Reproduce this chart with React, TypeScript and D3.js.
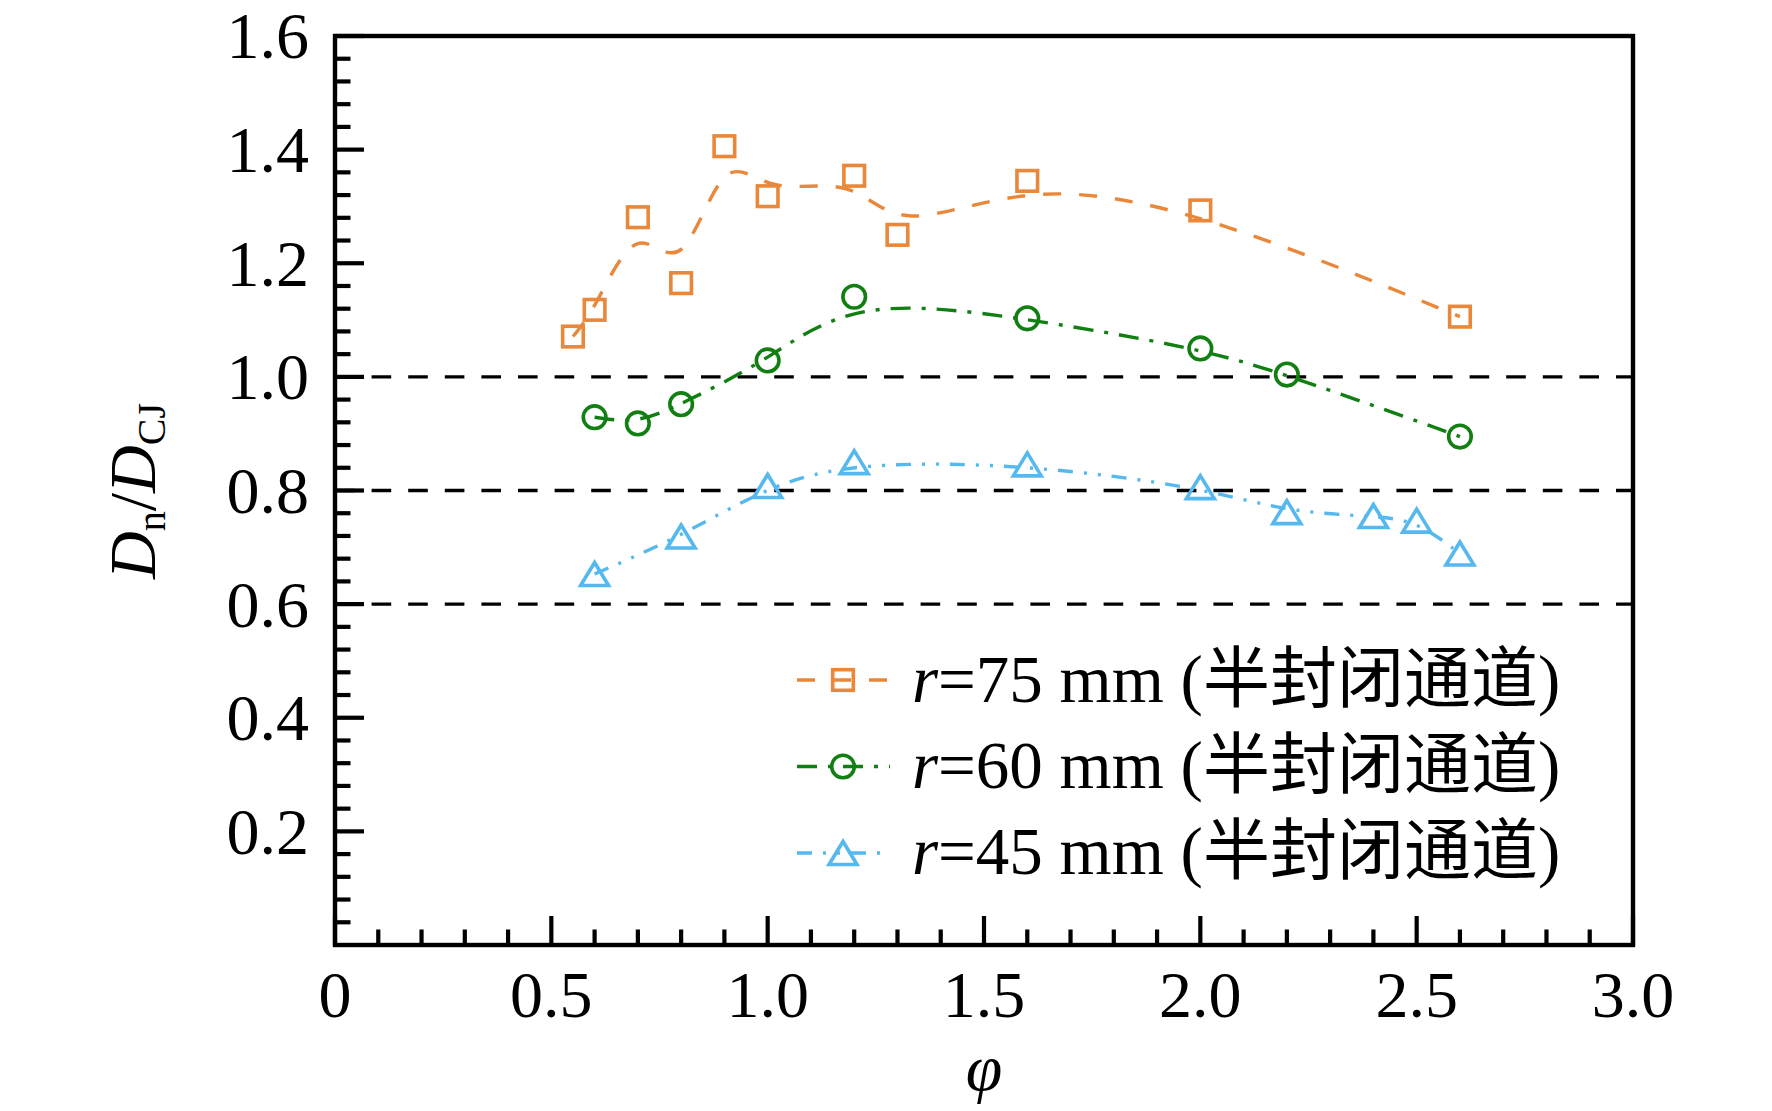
import React from "react";
import * as d3 from "d3";

// ---- data ----
const phi75 = [0.55, 0.6, 0.7, 0.8, 0.9, 1.0, 1.2, 1.3, 1.6, 2.0, 2.6];
const val75 = [1.071, 1.118, 1.281, 1.165, 1.406, 1.318, 1.354, 1.25, 1.345, 1.293, 1.106];
const phi60 = [0.6, 0.7, 0.8, 1.0, 1.2, 1.6, 2.0, 2.2, 2.6];
const val60 = [0.929, 0.918, 0.952, 1.029, 1.141, 1.103, 1.05, 1.004, 0.895];
const phi45 = [0.6, 0.8, 1.0, 1.2, 1.6, 2.0, 2.2, 2.4, 2.5, 2.6];
const val45 = [0.653, 0.719, 0.808, 0.85, 0.846, 0.806, 0.762, 0.755, 0.747, 0.689];
const refLines = [0.6, 0.8, 1.0];
const xTickLabels = ["0", "0.5", "1.0", "1.5", "2.0", "2.5", "3.0"];
const xTickValues = [0, 0.5, 1.0, 1.5, 2.0, 2.5, 3.0];
const yTickLabels = ["0.2", "0.4", "0.6", "0.8", "1.0", "1.2", "1.4", "1.6"];
const yTickValues = [0.2, 0.4, 0.6, 0.8, 1.0, 1.2, 1.4, 1.6];
const legendLabels = ["=75 mm (半封闭通道)", "=60 mm (半封闭通道)", "=45 mm (半封闭通道)"];

const W = 1772;
const H = 1111;
const L = 335, R = 1633, T = 36, B = 945;

const x = d3.scaleLinear().domain([0, 3]).range([L, R]);
const y = d3.scaleLinear().domain([0, 1.6]).range([B, T]);

const FONT = "'Liberation Serif', 'Times New Roman', 'Noto Sans CJK SC', serif";

type Series = {
  xs: number[];
  ys: number[];
  color: string;
  dash: string;
  marker: "square" | "circle" | "triangle";
  label: string;
};

const series: Series[] = [
  { xs: phi75, ys: val75, color: "#E9883A", dash: "18 18", marker: "square", label: legendLabels[0] },
  { xs: phi60, ys: val60, color: "#117F11", dash: "20 11 4 11", marker: "circle", label: legendLabels[1] },
  { xs: phi45, ys: val45, color: "#55B8EE", dash: "15 11 3 11 3 11", marker: "triangle", label: legendLabels[2] },
];

function Marker({ kind, cx, cy, color }: { kind: string; cx: number; cy: number; color: string }) {
  const sw = 3.6;
  if (kind === "square") {
    return <rect x={cx - 10.3} y={cy - 10.3} width={20.6} height={20.6} fill="none" stroke={color} strokeWidth={sw} />;
  }
  if (kind === "circle") {
    return <circle cx={cx} cy={cy} r={11.3} fill="none" stroke={color} strokeWidth={sw} />;
  }
  const p = `M${cx},${cy - 11.5} L${cx + 14},${cy + 11.5} L${cx - 14},${cy + 11.5} Z`;
  return <path d={p} fill="none" stroke={color} strokeWidth={sw} strokeLinejoin="miter" />;
}

export default function App() {
  const line = d3
    .line<[number, number]>()
    .x((d) => x(d[0]))
    .y((d) => y(d[1]))
    .curve(d3.curveBasis);

  const xMinor = d3.range(1, 30).map((i) => i / 10).filter((v) => Math.abs(v * 2 - Math.round(v * 2)) > 1e-6);
  const yMinor = d3.range(1, 40).map((i) => i * 0.04).filter((v) => Math.abs(v * 5 - Math.round(v * 5)) > 1e-6);

  const legendX0 = 797, legendX1 = 890, legendMarkerX = 843;
  const legendRows = [680, 766.5, 853];
  const legendBase = [702, 788, 874];

  return (
    <svg
      width={W}
      height={H}
      viewBox={`0 0 ${W} ${H}`}
      style={{ position: "absolute", left: 0, top: 0, background: "#fff" }}
      fontFamily={FONT}
    >
      <rect x={0} y={0} width={W} height={H} fill="#fff" />

      {/* reference dashed lines */}
      {refLines.map((v) => (
        <line key={v} x1={L} x2={R} y1={y(v)} y2={y(v)} stroke="#000" strokeWidth={3.3} strokeDasharray="19.6 17" />
      ))}

      {/* curves */}
      {series.map((s, i) => (
        <path
          key={"c" + i}
          d={line(s.xs.map((v, j) => [v, s.ys[j]] as [number, number])) || ""}
          fill="none"
          stroke={s.color}
          strokeWidth={3.4}
          strokeDasharray={s.dash}
        />
      ))}

      {/* markers */}
      {series.map((s, i) =>
        s.xs.map((v, j) => <Marker key={`m${i}-${j}`} kind={s.marker} cx={x(v)} cy={y(s.ys[j])} color={s.color} />)
      )}

      {/* ticks */}
      {yTickValues.map((v) => (
        <line key={"yt" + v} x1={L} x2={L + 29} y1={y(v)} y2={y(v)} stroke="#000" strokeWidth={4.2} />
      ))}
      {yMinor.map((v) => (
        <line key={"ym" + v} x1={L} x2={L + 15.5} y1={y(v)} y2={y(v)} stroke="#000" strokeWidth={4.2} />
      ))}
      {xTickValues.map((v) => (
        <line key={"xt" + v} x1={x(v)} x2={x(v)} y1={B} y2={B - 29} stroke="#000" strokeWidth={4.2} />
      ))}
      {xMinor.map((v) => (
        <line key={"xm" + v} x1={x(v)} x2={x(v)} y1={B} y2={B - 15.5} stroke="#000" strokeWidth={4.2} />
      ))}

      {/* frame */}
      <rect x={L} y={T} width={R - L} height={B - T} fill="none" stroke="#000" strokeWidth={4.4} />

      {/* tick labels */}
      {yTickValues.map((v, i) => (
        <text key={"yl" + v} x={309} y={y(v)} dy="0.34em" textAnchor="end" fontSize={66} fill="#000">
          {yTickLabels[i]}
        </text>
      ))}
      {xTickValues.map((v, i) => (
        <text key={"xl" + v} x={x(v)} y={1017} textAnchor="middle" fontSize={66} fill="#000">
          {xTickLabels[i]}
        </text>
      ))}

      {/* axis titles */}
      <text x={984} y={1090} textAnchor="middle" fontSize={66} fontStyle="italic" fill="#000">
        φ
      </text>
      <text transform="translate(155,491) rotate(-90)" textAnchor="middle" fontSize={66} fill="#000">
        <tspan fontStyle="italic">D</tspan>
        <tspan fontSize={40} dy={10}>n</tspan>
        <tspan dy={-10}>/</tspan>
        <tspan fontStyle="italic">D</tspan>
        <tspan fontSize={40} dy={10}>CJ</tspan>
      </text>

      {/* legend */}
      {series.map((s, i) => (
        <g key={"lg" + i}>
          <line
            x1={legendX0}
            x2={legendX1}
            y1={legendRows[i]}
            y2={legendRows[i]}
            stroke={s.color}
            strokeWidth={3.4}
            strokeDasharray={s.dash}
          />
          <Marker kind={s.marker} cx={legendMarkerX} cy={legendRows[i]} color={s.color} />
          <text x={912} y={legendBase[i]} fontSize={67} fill="#000">
            <tspan fontStyle="italic">r</tspan>
            {s.label}
          </text>
        </g>
      ))}
    </svg>
  );
}
